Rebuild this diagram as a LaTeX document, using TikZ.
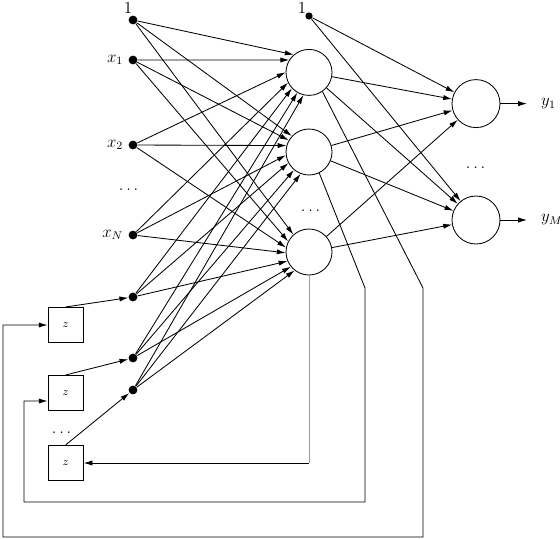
\documentclass[tikz,border=0pt]{standalone}
\usepackage{amsmath}
\usetikzlibrary{arrows.meta,calc,positioning}

\begin{document}
\begin{tikzpicture}[>={Latex[length=2.2mm,width=1.3mm]},line width=0.6pt,font=\large,
    dot/.style={circle,fill,inner sep=0pt,minimum size=2.2mm},
    neuron/.style={circle,draw,inner sep=0pt,minimum size=11.5mm},
    delaybox/.style={draw,inner sep=0pt,minimum size=8.8mm,font=\footnotesize}]
    \useasboundingbox (0,-13.45) rectangle (14,0);

    % input layer
    \node[dot] (b0) at (3.325,-0.5) {};
    \node (lb0) at (3.2,-0.2) {$1$};
    \node[dot,label=left:$x_1$] (x1) at (3.325,-1.5) {};
    \node[dot,label=left:$x_2$] (x2) at (3.325,-3.625) {};
    \node (xdots) at (3.25,-4.75) {$\dots$};
    \node[dot,label=left:$x_N$] (xN) at (3.325,-5.875) {};
    \node[dot] (c1) at (3.325,-7.425) {};
    \node[dot] (c2) at (3.325,-8.95) {};
    \node[dot] (c3) at (3.325,-9.75) {};

    % context units
    \node[delaybox] (z1) at (1.64,-8.125) {$z$};
    \node[delaybox] (z2) at (1.64,-9.825) {$z$};
    \node (zdots) at (1.575,-10.825) {$\dots$};
    \node[delaybox] (z3) at (1.64,-11.575) {$z$};
    \draw[->] (z1.north) -- (c1);
    \draw[->] (z2.north) -- (c2);
    \draw[->] (z3.north) -- (c3);

    % hidden layer
    \node[neuron] (h1) at (7.725,-1.81) {};
    \node[neuron] (h2) at (7.725,-3.8) {};
    \node (hdots) at (7.8,-5.275) {$\dots$};
    \node[neuron] (h3) at (7.725,-6.3) {};
    \node[dot,minimum size=1.8mm] (b1) at (7.725,-0.4) {};
    \node (lb1) at (7.55,-0.2) {$1$};

    \foreach \src/\a/\b/\c in {b0/131/137/132,x1/148/150/153,x2/180/164/169,
        xN/206/188/182,c1/223/208/203,c2/240/230/219,c3/256/249/232}
      {\draw[->] (\src) -- (h1.\a);
       \draw[->] (\src) -- (h2.\b);
       \draw[->] (\src) -- (h3.\c);}

    % output layer
    \node[neuron,minimum size=12mm] (o1) at (11.9,-2.59) {};
    \node (odots) at (11.925,-4.2) {$\dots$};
    \node[neuron,minimum size=12mm] (oM) at (11.9,-5.5) {};
    \foreach \src in {b1,h1,h2,h3}
      {\draw[->] (\src) -- (o1);
       \draw[->] (\src) -- (oM);}

    \coordinate (e1) at (13.175,-2.59);
    \coordinate (eM) at (13.175,-5.5);
    \draw[->] (o1) -- (e1);
    \draw[->] (oM) -- (eM);
    \node[anchor=west] (ly1) at (13.4,-2.59) {$y_1$};
    \node[anchor=west] (lyM) at (13.4,-5.5) {$y_M$};

    % feedback to the context units
    \coordinate (k1) at (10.575,-7.2);
    \coordinate (k1b) at (10.575,-13.425);
    \coordinate (k1c) at (0.075,-13.425);
    \draw[->] (h1.-55) -- (k1) -- (k1b) -- (k1c) |- (z1.west);

    \coordinate (k2) at (9.125,-7.2);
    \coordinate (k2b) at (9.125,-12.55);
    \coordinate (k2c) at (0.6,-12.55);
    \draw[->] (h2.-64) -- (k2) -- (k2b) -- (k2c) |- ([yshift=-2mm]z2.west);

    \coordinate (k3) at (h3 |- z3.east);
    \draw[black!40] (h3.south) -- (k3);
    \draw[->] (k3) -- (z3.east);
\end{tikzpicture}
\end{document}
